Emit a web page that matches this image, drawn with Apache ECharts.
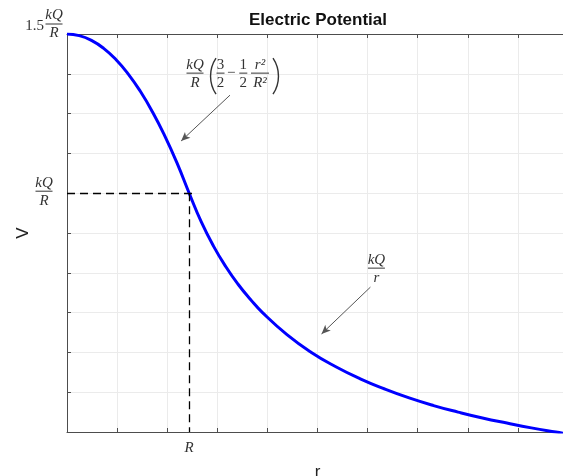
<!DOCTYPE html>
<html><head><meta charset="utf-8">
<script src="https://cdn.jsdelivr.net/npm/echarts@6/dist/echarts.min.js"></script>
<style>html,body{margin:0;padding:0;background:#fff}#c{width:563px;height:476px}</style>
</head><body><div id="c"></div>
<script>
// ---- data (r in units of R, V in units of kQ/R) ----
const chartTitle = 'Electric Potential';
const xAxisName = 'r';
const yAxisName = 'V';
const rValues = [0, 0.1, 0.2, 0.3, 0.4, 0.5, 0.6, 0.7, 0.8, 0.9, 1.0,
                 1.1, 1.2, 1.3, 1.4, 1.5, 1.6, 1.8, 2.0, 2.2, 2.4, 2.6, 2.8,
                 3.0, 3.2, 3.4, 3.6, 3.8, 4.0, 4.1];
const vValues = [1.5, 1.495, 1.48, 1.455, 1.42, 1.375, 1.32, 1.255, 1.18, 1.095, 1.0,
                 0.909, 0.833, 0.769, 0.714, 0.667, 0.625, 0.556, 0.5, 0.455, 0.417, 0.385, 0.357,
                 0.333, 0.3125, 0.294, 0.278, 0.263, 0.25, 0.244];
const xMin = 0, xMax = 4.1, xStep = 0.41;
const yMin = 0.25, yMax = 1.5, yStep = 0.125;
const xTickLabelValue = 1.0;     // "R"
const yTopLabelValue = 1.5;      // "1.5 kQ/R"
const yMidLabelValue = 1.0;      // "kQ/R"
// annotation arrows [from, to] in data units
const arrowInside = [[1.334, 1.308], [0.934, 1.164]];
const arrowOutside = [[2.483, 0.705], [2.083, 0.558]];

const chart = echarts.init(document.getElementById('c'), null, {renderer: 'canvas'});
const axisColor = '#4d4d4d';
const gridColor = '#ebebeb';
const textColor = '#333';
const mathFont = {fontFamily: 'Liberation Serif', fontStyle: 'italic', fontSize: 15};
const numFont = {fontFamily: 'Liberation Serif', fontStyle: 'normal', fontSize: 15};

const curve = rValues.map((r, i) => [r, vValues[i]]);

chart.setOption({
  animation: false,
  backgroundColor: '#fff',
  grid: {left: 67, width: 501, top: 34, height: 398, outerBoundsMode: 'none', containLabel: false},
  xAxis: [{
    type: 'value', min: xMin, max: xMax, interval: xStep, position: 'bottom',
    name: xAxisName, nameLocation: 'middle', nameGap: 32,
    nameTextStyle: {fontFamily: 'Liberation Sans', fontSize: 17, color: '#222'},
    axisLine: {show: true, onZero: false, lineStyle: {color: axisColor, width: 1}},
    axisTick: {show: true, inside: true, length: 4, lineStyle: {color: axisColor}},
    axisLabel: {show: false},
    splitLine: {show: true, lineStyle: {color: gridColor, width: 1}}
  }, {
    type: 'value', min: xMin, max: xMax, interval: xStep, position: 'top',
    axisLine: {show: true, onZero: false, lineStyle: {color: axisColor, width: 1}},
    axisTick: {show: true, inside: true, length: 4, lineStyle: {color: axisColor}},
    axisLabel: {show: false}, splitLine: {show: false}
  }],
  yAxis: [{
    type: 'value', min: yMin, max: yMax, interval: yStep, position: 'left',
    name: yAxisName, nameLocation: 'middle', nameGap: 35, nameRotate: 90,
    nameTextStyle: {fontFamily: 'Liberation Sans', fontSize: 17, color: '#222'},
    axisLine: {show: true, onZero: false, lineStyle: {color: axisColor, width: 1}},
    axisTick: {show: true, inside: true, length: 4, lineStyle: {color: axisColor}},
    axisLabel: {show: false},
    splitLine: {show: true, lineStyle: {color: gridColor, width: 1}}
  }],
  series: [{
    type: 'line', data: curve, smooth: true, showSymbol: false, symbol: 'none',
    lineStyle: {color: '#0000ff', width: 3}, clip: true, z: 3,
    markLine: {
      silent: true, symbol: ['none', 'none'], label: {show: false},
      data: [
        [{coord: [0, yMidLabelValue], lineStyle: {color: '#000', width: 1.3, type: [8, 5]}},
         {coord: [1.03, yMidLabelValue]}],
        [{coord: [xTickLabelValue, yMidLabelValue], lineStyle: {color: '#000', width: 1.3, type: [8, 5]}},
         {coord: [xTickLabelValue, yMin]}],
        [{coord: arrowInside[0], lineStyle: {color: '#555', width: 1, type: 'solid'}},
         {coord: arrowInside[1], symbol: 'arrow', symbolSize: [6, 9]}],
        [{coord: arrowOutside[0], lineStyle: {color: '#555', width: 1, type: 'solid'}},
         {coord: arrowOutside[1], symbol: 'arrow', symbolSize: [6, 9]}]
      ]
    }
  }]
});

// ---- math-style labels placed from axis coordinates ----
function txt(x, y, text, font, align, valign) {
  return {type: 'text', silent: true, z: 10,
    style: Object.assign({x, y, text, fill: textColor, align, verticalAlign: valign}, font)};
}
function frac(cx, by, num, den, w, font) {
  return [
    txt(cx, by - 1, num, font, 'center', 'bottom'),
    {type: 'line', silent: true, z: 10, shape: {x1: cx - w / 2, y1: by, x2: cx + w / 2, y2: by},
     style: {stroke: textColor, lineWidth: 1}},
    txt(cx, by + 2, den, font, 'center', 'top')
  ];
}
// stretchy delimiter drawn as a thin arc; cx = x of its two tips
function paren(cx, cy, h, left) {
  const r = h * 0.9, a = Math.asin((h / 2) / r);
  const ccx = left ? cx + r * Math.cos(a) : cx - r * Math.cos(a);
  return {type: 'arc', silent: true, z: 10,
    shape: {cx: ccx, cy: cy, r: r,
      startAngle: left ? Math.PI - a : -a, endAngle: left ? Math.PI + a : a, clockwise: true},
    style: {stroke: textColor, lineWidth: 1.4, fill: null}};
}
const px = (x, y) => chart.convertToPixel({gridIndex: 0}, [x, y]);
const pTop = px(0, yTopLabelValue);
const pMid = px(0, yMidLabelValue);
const pR = px(xTickLabelValue, yMin);
const pA = px(arrowInside[0][0], arrowInside[0][1]);
const pB = px(arrowOutside[0][0], arrowOutside[0][1]);

let els = [];
// title
els.push({type: 'text', silent: true, z: 10, style: {x: 318, y: 20,
  text: chartTitle, fill: '#111', align: 'center', verticalAlign: 'middle',
  fontFamily: 'Liberation Sans', fontWeight: 'bold', fontSize: 17}});
// y labels
els.push(txt(pTop[0] - 23, pTop[1] - 8, '1.5', numFont, 'right', 'middle'));
els = els.concat(frac(pTop[0] - 13, pTop[1] - 10, 'kQ', 'R', 17, mathFont));
els = els.concat(frac(pMid[0] - 23, pMid[1] - 2, 'kQ', 'R', 17, mathFont));
// x label
els.push(txt(pR[0], pR[1] + 16, 'R', mathFont, 'center', 'middle'));
// inside formula
const fy = pA[1] - 22, fx = pA[0];
els = els.concat(frac(fx - 35, fy, 'kQ', 'R', 17, mathFont));
els.push(paren(fx - 14, fy + 3, 36, true));
els = els.concat(frac(fx - 9.5, fy, '3', '2', 8, numFont));
els.push(txt(fx + 1.3, fy, '\u2212', numFont, 'center', 'middle'));
els = els.concat(frac(fx + 13.3, fy, '1', '2', 8, numFont));
els = els.concat(frac(fx + 30, fy, 'r\u00b2', 'R\u00b2', 18, mathFont));
els.push(paren(fx + 43, fy + 3, 36, false));
// outside formula
els = els.concat(frac(pB[0] + 6, pB[1] - 19, 'kQ', 'r', 17, mathFont));

chart.setOption({graphic: {elements: els}});
</script>
</body></html>
